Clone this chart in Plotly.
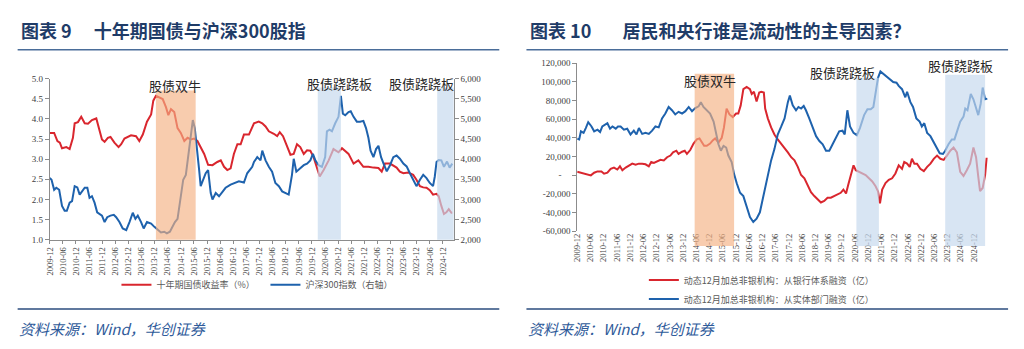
import plotly.graph_objects as go

# ---------------- data (x = months since 2009-12) ----------------
tick_labels = [f"{y}-{m}" for y in range(2009, 2025) for m in ("06", "12")][1:]
tick_months = [6 * i for i in range(len(tick_labels))]

yield_month = [0, 2.0, 3.5, 4.6, 5.6, 7.6, 9.1, 10.6, 11.4, 12.9, 14.4, 16.0, 17.5, 19.3, 21.3, 22.5, 23.9, 25.1,
               26.6, 27.8, 29.6, 31.5, 32.7, 34.2, 37.2, 39.5, 41.0, 42.6, 44.5, 46.4, 47.4, 48.6, 50.2, 51.7,
               53.2, 54.3, 55.5, 57.0, 58.5, 60.0, 61.6, 63.1, 64.6, 66.1, 67.6, 69.1, 70.7, 72.5, 74.5, 76.7,
               78.3, 79.8, 81.3, 82.8, 84.3, 85.9, 87.4, 88.9, 91.2,
               93.5, 95.7, 97.3, 98.8, 100.3, 102.6, 104.1, 105.3, 106.8, 108.7, 110.2, 111.7, 113.2, 114.7,
               116.3, 117.8, 119.3, 120.8, 122.3, 123.6, 125.4, 127.7, 129.9, 132.2, 133.8, 136.8, 139.1, 141.3,
               143.6, 145.9, 148.2, 150.5, 152.0, 153.5, 155.8, 157.3, 158.8, 160.3, 161.9, 164.1, 166.4, 167.9,
               169.5, 171.0, 172.5, 174.0, 175.5, 177.1, 178.1, 179.3, 180.5, 181.6, 182.7, 183.9, 184.3]
yield_pct = [3.65, 3.65, 3.45, 3.41, 3.27, 3.30, 3.25, 3.53, 3.89, 3.92, 4.05, 3.89, 3.88, 3.97, 4.01, 3.77, 3.49,
             3.43, 3.53, 3.55, 3.41, 3.30, 3.37, 3.51, 3.59, 3.57, 3.45, 3.61, 3.93, 4.11, 4.45, 4.57, 4.53, 4.49,
             4.29, 4.09, 4.24, 4.17, 3.77, 3.65, 3.45, 3.53, 3.49, 3.51, 3.45, 3.30, 3.13, 2.86, 2.85, 2.93,
             2.97, 2.81, 2.73, 2.77, 3.13, 3.37, 3.37, 3.61, 3.61,
             3.89, 3.93, 3.89, 3.81, 3.69, 3.63, 3.57, 3.67, 3.57, 3.29, 3.11, 3.13, 3.37, 3.30,
             3.13, 3.22, 3.21, 3.05, 2.81, 2.57, 2.73, 2.97, 3.25, 3.17, 3.27, 3.13, 2.89, 2.97,
             2.81, 2.81, 2.79, 2.78, 2.69, 2.89, 2.89, 2.85, 2.79, 2.69, 2.65, 2.67, 2.61, 2.49,
             2.33, 2.30, 2.29, 2.23, 2.12, 2.14, 2.08, 1.84, 1.64, 1.68, 1.76, 1.67, 1.67]

csi_month = [0, 0.8, 2.0, 3.0, 4.3, 5.6, 6.8, 7.8, 9.1, 10.2, 11.4, 12.6, 13.7, 14.7, 16.0, 17.2, 18.2, 19.3, 20.5,
             21.7, 22.8, 23.9, 25.1, 26.3, 27.8, 29.3, 30.4, 31.9, 33.4, 35.0, 36.5, 38.0, 39.2, 40.3, 41.8, 43.0,
             44.5, 46.4, 47.9, 49.4, 50.9, 52.4, 53.6, 55.0, 56.2, 57.3, 58.5, 60.0, 61.1, 62.3, 63.5, 64.6, 65.5,
             66.4, 67.3, 68.4, 69.1, 70.4, 71.4, 72.5, 73.7, 74.5, 76.0, 77.5, 79.0, 80.5, 82.8, 84.7, 86.6, 88.9,
             90.4, 92.7,
             93.5, 95.0, 96.5, 97.3, 98.8, 100.3, 101.8, 103.3, 104.9, 106.4, 107.9, 109.4, 110.9, 111.7, 112.9,
             114.7, 116.3, 117.8, 119.3, 120.5, 121.6, 123.1, 124.6, 126.1, 126.9, 128.1, 129.2, 130.7, 132.2,
             133.3, 134.2, 135.3, 136.8, 137.8, 139.1, 140.6, 142.1, 143.6, 144.8, 145.9, 146.9, 148.2, 149.4,
             150.5, 151.7, 153.1, 154.3, 155.8, 157.3, 158.8, 160.3, 161.9, 163.4, 164.9, 166.4, 167.9, 169.5,
             171.0, 172.5, 174.0, 175.5, 176.3, 177.1, 178.1, 179.3, 180.5, 181.9, 183.1, 184.3]
csi300 = [3530, 3490, 3240, 3290, 3240, 2840, 2720, 2720, 2920, 2960, 3330, 3300, 3120, 3200, 3290, 3290, 3040,
          3080, 2920, 2680, 2640, 2600, 2440, 2560, 2600, 2620, 2560, 2440, 2280, 2240, 2440, 2670, 2520, 2600,
          2440, 2280, 2440, 2400, 2320, 2240, 2180, 2200, 2160, 2200, 2320, 2440, 2520, 3160, 3490, 3610, 4130,
          4530, 4970, 4770, 4210, 3730, 3330, 3490, 3650, 3730, 3160, 3000, 3160, 3080, 3200, 3290, 3370, 3410,
          3450, 3420, 3650, 3810,
          3930, 4050, 3970, 4210, 3970, 3810, 3690, 3410, 3330, 3200, 3160, 3120, 3610, 4010, 3690, 3770, 3850,
          3890, 3970, 4130, 3970, 3850, 3810, 4050, 4690, 4730, 4690, 4890, 5050, 5570, 5130, 5090, 5170, 5190,
          5050, 4930, 4930, 4950, 4770, 4530, 4210, 4050, 4250, 4330, 4050, 3850, 3700, 3850, 4050, 4090, 4010,
          3890, 3820, 3650, 3490, 3330, 3490, 3610, 3530, 3410, 3330, 3570, 3930, 3980, 3970, 3810, 3940, 3790,
          3890]

bank_month = [0, 1.7, 3.2, 5.0, 6.2, 7.7, 9.2, 11.0, 12.2, 13.7, 15.2, 16.7, 18.2, 19.4, 20.5, 22.0, 23.5, 25.0,
              26.5, 28.0, 29.5, 31.0, 32.5, 33.6, 34.8, 36.3, 37.8, 39.3, 40.8, 42.3, 43.5, 45.0, 46.0, 47.6, 48.8,
              49.8, 51.3, 52.8, 54.3, 55.5, 56.6, 57.6, 58.8, 60.3, 61.5, 62.6, 64.1, 65.6, 66.6, 67.8, 69.1, 70.6,
              72.1, 73.1, 74.2, 75.4, 76.9, 78.4, 79.2, 80.2, 81.4, 82.6,
              83.5, 84.7, 85.3, 86.5, 88.0, 89.5, 91.0, 92.6, 94.1, 95.6, 97.1, 98.6, 100.1, 101.6, 103.1, 104.6,
              106.1, 107.6, 109.1, 110.6, 112.1, 113.6, 115.1, 116.6, 118.1, 119.6, 120.8, 122.0, 123.0, 124.2,
              125.4, 126.4, 127.9, 129.4, 130.9, 132.4, 133.9, 135.4, 136.5, 137.4, 138.4, 139.9, 141.4, 142.9,
              144.4, 145.9, 147.4, 148.4, 149.7, 150.9, 151.9, 153.0, 154.2, 155.7, 157.3, 158.8, 160.3, 161.8,
              163.3, 164.8, 166.3, 167.8, 169.3, 170.8, 172.3, 173.8, 175.3, 176.8, 178.3, 179.8, 181.0, 182.0,
              182.8, 184.0, 185.1, 185.8]
bank_fin = [3600, 2550, 1150, 800, -250, 2550, 3950, 3950, 1500, 2550, 6700, 8100, 6000, 9500, 5300, 8100, 10500,
            12300, 11200, 12300, 12300, 11600, 9500, 14000, 13000, 15100, 16400, 15800, 19200, 21000, 24400, 26200,
            22700, 25100, 26200, 22700, 26900, 33800, 38300, 39400, 34900, 31400, 31400, 33800, 37300, 39400,
            34900, 40100, 51200, 71400, 65100, 62300, 66100, 66100, 74800, 92200, 94600, 92200, 87000, 89400,
            79000, 88700,
            89400, 88700, 71400, 60900, 51200, 43600, 38300, 33800, 29600, 24400, 19200, 15800, 8800, 100, -3400,
            -10300, -18300, -22500, -26000, -29400, -27700, -24200, -24200, -22500, -20000, -19000, -15500, -19700,
            -10300, 100, 10500, 5300, 3600, 2500, 100, -3400, -6800, -12000, -17300, -30200, -15500, -8500, -5100,
            -3400, 1800, 10500, 6700, 14000, 12300, 8800, 17500, 12300, 12300, 6700, 4300, 8800, 12300, 17500,
            21000, 17500, 16400, 21000, 26200, 29600, 24400, 3600, -900, 5300, 12300, 29600, 19200, -1600, -17300,
            -13800, 100, 18600]

real_month = [0, 0.9, 1.7, 2.9, 3.9, 5.0, 6.5, 7.7, 9.2, 10.4, 11.4, 12.5, 13.7, 14.9, 16.0, 17.5, 18.5, 19.7, 21.2,
              22.7, 24.2, 25.7, 26.9, 28.0, 29.5, 31.0, 32.5, 34.0, 35.5, 37.0, 38.5, 40.0, 41.5, 43.0, 44.5, 46.0,
              47.6, 49.1, 50.6, 52.1, 53.6, 55.1, 56.1, 57.3, 58.8, 60.3, 61.9, 63.1, 64.1, 65.2, 66.4, 67.6, 68.6,
              70.1, 71.2, 72.4, 73.9, 75.4, 76.9, 78.4, 79.9, 81.4, 82.9,
              83.5, 85.0, 86.5, 88.0, 89.5, 91.0, 92.6, 94.1, 95.6, 96.5, 97.8, 99.3, 100.4, 101.6, 102.8, 103.8,
              105.3, 106.8, 108.4, 109.9, 111.4, 112.9, 114.4, 115.9, 117.4, 118.9, 120.4, 121.4, 122.6, 123.8,
              125.4, 126.9, 128.3, 130.2, 131.7, 133.2, 134.4, 135.4, 136.5, 137.6, 138.8, 140.3, 141.8, 143.4,
              144.9, 145.9, 147.4, 148.9, 149.7, 151.2, 152.4, 153.9, 155.4, 156.4, 157.5, 158.8, 160.3, 161.8,
              163.3, 164.5, 166.0, 167.0, 168.5, 170.0, 171.2, 172.3, 173.8, 175.3, 176.1, 177.1, 178.6, 179.8,
              181.0, 182.0, 183.1, 184.0, 185.1, 186.1]
real_fin = [39000, 38300, 47000, 45300, 50500, 56800, 52200, 47000, 48800, 46300, 52200, 54000, 55700, 49800, 52200,
            49800, 52200, 52200, 48800, 49800, 43600, 47700, 43600, 50500, 44200, 45300, 44200, 47700, 52200, 51200,
            60900, 66100, 73100, 69600, 65100, 67900, 66100, 68600, 73100, 68600, 72000, 73800, 78300, 73100,
            69600, 66100, 57400, 43600, 33100, 26200, 31400, 29600, 21000, 14000, 1100, -8700, -19000, -22500,
            -32900, -45100, -50300, -46800, -39900,
            -32900, -15500, 100, 15800, 27900, 43600, 52200, 60900, 78300, 85300, 74800, 69600, 73100, 71400, 74200,
            69600, 60900, 50500, 41800, 36600, 33100, 26200, 26200, 33100, 40800, 47000, 47700, 43600, 69600,
            52200, 45300, 42900, 50500, 64400, 70700, 70700, 73100, 88700, 104400, 111300, 108800, 105400, 103300,
            99800, 99200, 95700, 92200, 83500, 89400, 78300, 73100, 60900, 57400, 52200, 55700, 45300, 41800,
            34900, 27900, 23400, 22700, 26200, 33100, 38300, 38300, 47000, 57400, 62700, 71400, 69600, 87000,
            81400, 73100, 64400, 76600, 94000, 81400, 82100]

# shaded periods (months since 2009-12)
left_periods = [(48.6, 66.8, "orange"), (122.7, 133.3, "blue"), (177.4, 185.0, "blue")]
right_periods = [(53.3, 71.2, "orange"), (126.7, 136.9, "blue"), (167.0, 185.1, "blue")]
left_labels = [(57.5, "股债双牛"), (132.5, "股债跷跷板"), (170.0, "股债跷跷板")]
right_labels = [(60.4, "股债双牛"), (120.4, "股债跷跷板"), (173.8, "股债跷跷板")]

RED = "#D9262E"
BLUE = "#1E62AD"
CJK = "Noto Sans CJK SC"
TICKF = dict(family="Liberation Serif", size=9, color="#404040")
XTICKF = dict(family="Liberation Serif", size=8.5, color="#404040")
AX = "#8C8C8C"

fig = go.Figure()
fig.add_trace(go.Scatter(x=yield_month, y=yield_pct, mode="lines", name="十年期国债收益率（%）",
                         line=dict(color=RED, width=2), xaxis="x", yaxis="y", legend="legend"))
fig.add_trace(go.Scatter(x=csi_month, y=csi300, mode="lines", name="沪深300指数（右轴）",
                         line=dict(color=BLUE, width=2), xaxis="x", yaxis="y2", legend="legend"))
fig.add_trace(go.Scatter(x=bank_month, y=bank_fin, mode="lines", name="动态12月加总非银机构：从银行体系融资（亿）",
                         line=dict(color=RED, width=2), xaxis="x3", yaxis="y3", legend="legend2"))
fig.add_trace(go.Scatter(x=real_month, y=real_fin, mode="lines", name="动态12月加总非银机构：从实体部门融资（亿）",
                         line=dict(color=BLUE, width=2), xaxis="x3", yaxis="y3", legend="legend2"))

H = 349.0
def py(px):
    return 1 - px / H

common_x = dict(tickmode="array", tickvals=tick_months, ticktext=tick_labels, tickangle=-90,
                tickfont=XTICKF, showgrid=False, zeroline=False)

left_ydom = [py(241.7), py(75.7)]
right_ydom = [py(232.7), py(60.0)]
zero_pos = right_ydom[0] + (right_ydom[1] - right_ydom[0]) * (60000 / 180000)

fig.update_layout(
    width=1024, height=349, margin=dict(l=0, r=0, t=0, b=0),
    paper_bgcolor="white", plot_bgcolor="rgba(0,0,0,0)",
    xaxis=dict(domain=[45 / 1024, 451 / 1024], range=[0, 185], anchor="y", showline=True, linecolor=AX,
               ticks="outside", ticklen=3, tickcolor=AX, **common_x),
    yaxis=dict(domain=left_ydom, range=[1, 5], dtick=0.5, tickformat=".1f", anchor="x", showline=True,
               linecolor=AX, ticks="outside", ticklen=4, tickcolor=AX, tickfont=TICKF, showgrid=False,
               zeroline=False),
    yaxis2=dict(range=[2000, 6000], dtick=500, tickformat=",d", overlaying="y", side="right", anchor="x",
                showline=True, linecolor=AX, ticks="outside", ticklen=4, tickcolor=AX, tickfont=TICKF,
                showgrid=False, zeroline=False),
    xaxis3=dict(domain=[575 / 1024, 990 / 1024], range=[0, 187.4], anchor="y3", showline=False, ticks="",
                **common_x),
    xaxis4=dict(domain=[575 / 1024, 990 / 1024], range=[0, 187.4], overlaying="x3", anchor="free",
                position=zero_pos, showline=True, linecolor=AX, ticks="outside", ticklen=3, tickcolor=AX,
                tickmode="array", tickvals=tick_months, showticklabels=False, showgrid=False, zeroline=False),
    yaxis3=dict(domain=right_ydom, range=[-60000, 120000], anchor="x3", tickmode="array",
                tickvals=[120000, 100000, 80000, 60000, 40000, 20000, 0, -20000, -40000, -60000],
                ticktext=["120,000", "100,000", "80,000", "60,000", "40,000", "20,000", "-\u00a0\u00a0\u00a0\u00a0",
                          "-20,000", "-40,000", "-60,000"],
                showline=True, linecolor=AX, ticks="outside", ticklen=4, tickcolor=AX, tickfont=TICKF,
                showgrid=False, zeroline=False),
    legend=dict(orientation="h", x=112 / 1024, y=py(288), xanchor="left", yanchor="middle",
                font=dict(family=CJK, size=9, color="#595959"), bgcolor="rgba(0,0,0,0)",
                entrywidth=104, entrywidthmode="pixels"),
    legend2=dict(orientation="v", x=642 / 1024, y=py(293), xanchor="left", yanchor="middle",
                 font=dict(family=CJK, size=9, color="#595959"), bgcolor="rgba(0,0,0,0)", tracegroupgap=0),
)

ORANGE_FILL = "rgba(244,176,131,0.65)"
BLUE_FILL = "rgba(197,217,238,0.68)"
shapes = []
for x0, x1, kind in left_periods:
    top = py(88) if kind == "orange" else py(85)
    shapes.append(dict(type="rect", xref="x", yref="paper", x0=x0, x1=x1, y0=left_ydom[0], y1=top,
                       fillcolor=ORANGE_FILL if kind == "orange" else BLUE_FILL, line=dict(width=0), layer="above"))
right_tops = [py(70.7), py(75.0), py(71.7)]
for (x0, x1, kind), top in zip(right_periods, right_tops):
    shapes.append(dict(type="rect", xref="x3", yref="paper", x0=x0, x1=x1, y0=py(248), y1=top,
                       fillcolor=ORANGE_FILL if kind == "orange" else BLUE_FILL, line=dict(width=0), layer="above"))
# title / source rules
TITLE_C = "#1F3C68"
for xa, xb in [(12.7, 496.7), (524, 1008)]:
    shapes.append(dict(type="line", xref="paper", yref="paper", x0=xa / 1024, x1=xb / 1024, y0=py(46), y1=py(46),
                       line=dict(color="#4A6D99", width=1.5), layer="above"))
    shapes.append(dict(type="line", xref="paper", yref="paper", x0=xa / 1024, x1=xb / 1024, y0=py(313), y1=py(313),
                       line=dict(color="#2B4C7E", width=1.5), layer="above"))
fig.update_layout(shapes=shapes)

ann = []
for (xm, txt), yy in zip(left_labels, [82.7, 81, 81]):
    ann.append(dict(x=xm, y=py(yy), xref="x", yref="paper", text=txt, showarrow=False,
                    font=dict(family=CJK, size=13, color="#262626"), xanchor="center", yanchor="middle"))
for (xm, txt), yy in zip(right_labels, [78, 70, 62.7]):
    ann.append(dict(x=xm, y=py(yy), xref="x3", yref="paper", text=txt, showarrow=False,
                    font=dict(family=CJK, size=13, color="#262626"), xanchor="center", yanchor="middle"))
ann.append(dict(x=14 / 1024, y=py(26), xref="paper", yref="paper", text="图表 9\u2003 十年期国债与沪深300股指",
                showarrow=False, xanchor="left", yanchor="middle",
                font=dict(family=CJK, size=18, color=TITLE_C, weight="bold")))
ann.append(dict(x=526 / 1024, y=py(26), xref="paper", yref="paper",
                text="图表 10\u2003\u2002 居民和央行谁是流动性的主导因素？",
                showarrow=False, xanchor="left", yanchor="middle",
                font=dict(family=CJK, size=18, color=TITLE_C, weight="bold")))
for xs in (12, 524):
    ann.append(dict(x=xs / 1024, y=py(333), xref="paper", yref="paper", text="<i>资料来源：Wind，华创证券</i>",
                    showarrow=False, xanchor="left", yanchor="middle",
                    font=dict(family=CJK, size=15, color="#2F5B9A")))
fig.update_layout(annotations=ann)

fig.write_html("out.html")
